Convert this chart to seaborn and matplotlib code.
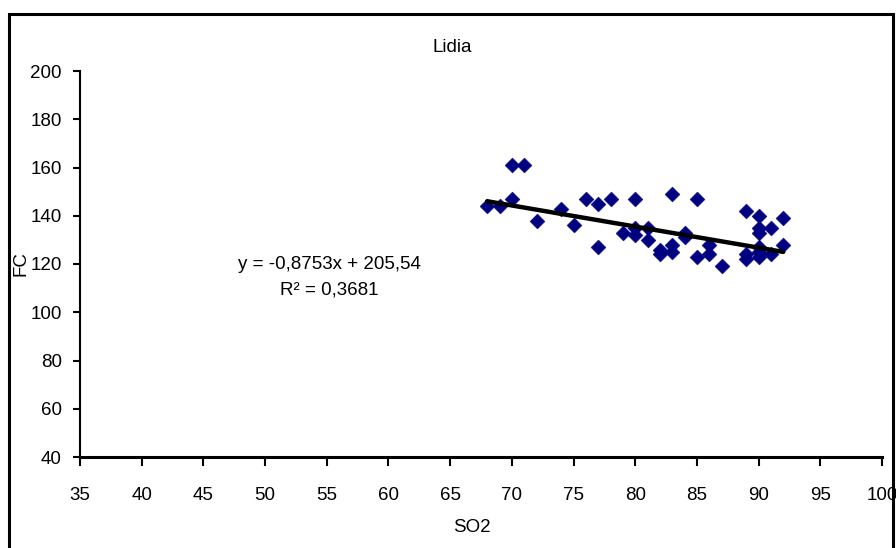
import numpy as np
import pandas as pd
import matplotlib
matplotlib.use("Agg")
import matplotlib.pyplot as plt
import seaborn as sns
from matplotlib.patches import Rectangle

so2 = [68, 69, 70, 70, 71, 72, 74, 75, 76, 77, 77, 78, 79, 80, 80, 80,
       81, 81, 82, 82, 83, 83, 83, 84, 84, 85, 85, 86, 86, 87, 89, 89, 89,
       90, 90, 90, 90, 90, 90, 91, 91, 92, 92]
fc = [144, 144, 161, 147, 161, 138, 143, 136, 147, 145, 127, 147, 133, 147, 135, 132,
      135, 130, 126, 124, 149, 128, 125, 133, 131, 147, 123, 128, 124, 119, 142, 124, 122,
      140, 135, 133, 127, 125, 123, 135, 124, 139, 128]
slope = -0.8753
intercept = 205.54
xticks = [35, 40, 45, 50, 55, 60, 65, 70, 75, 80, 85, 90, 95, 100]
yticks = [40, 60, 80, 100, 120, 140, 160, 180, 200]
title = "Lidia"
eq_text = "y = -0,8753x + 205,54"
r2_text = "R² = 0,3681"

df = pd.DataFrame({"SO2": so2, "FC": fc})
trend = pd.DataFrame({"SO2": [min(so2), max(so2)]})
trend["FC"] = slope * trend["SO2"] + intercept

sns.set_theme(style="ticks")
plt.rcParams['font.family'] = ["Liberation Sans", "DejaVu Sans"]
plt.rcParams['text.color'] = 'black'
fsz = 13.5

W, H = 896, 548
fig = plt.figure(figsize=(W / 100, H / 100), dpi=100)
ax = fig.add_axes([80 / W, (H - 457) / H, 802 / W, 386 / H])

sns.scatterplot(data=df, x="SO2", y="FC", ax=ax, marker="D", s=58,
                color="#000080", edgecolor="#000080", linewidth=0.3, zorder=2)
sns.lineplot(data=trend, x="SO2", y="FC", ax=ax, color="black",
             linewidth=3.2, zorder=3)

ax.set_xlim(35, 100)
ax.set_ylim(40, 200)
ax.set_xticks(xticks)
ax.set_yticks(yticks)
ax.tick_params(axis="both", direction="out", width=1.5, colors="black",
               labelcolor="black", labelsize=fsz)
ax.tick_params(axis="y", length=5, pad=8)
ax.tick_params(axis="x", length=6.5, pad=15)
for s in ["top", "right"]:
    ax.spines[s].set_visible(False)
ax.spines["left"].set_linewidth(1.5)
ax.spines["bottom"].set_linewidth(2.2)
ax.spines["left"].set_color("black")
ax.spines["bottom"].set_color("black")
ax.set_xlabel("")
ax.set_ylabel("")

fig.text(472 / W, 1 - 527 / H, "SO2", ha="center", va="center", fontsize=fsz)
fig.text(21 / W, 1 - 264 / H, "FC", ha="center", va="center", rotation=90, fontsize=fsz)
fig.text(452 / W, 1 - 48 / H, title, ha="center", va="center", fontsize=fsz)
fig.text(329 / W, 1 - 264 / H, eq_text, ha="center", va="center", fontsize=fsz)
fig.text(329 / W, 1 - 290 / H, r2_text, ha="center", va="center", fontsize=fsz)

frame = Rectangle((9 / W, -0.05), (893 - 9) / W, 0.05 + (H - 14) / H,
                  transform=fig.transFigure, fill=False, edgecolor="black",
                  linewidth=2.2, clip_on=False)
fig.patches.append(frame)

fig.savefig("out.png", dpi=100)
